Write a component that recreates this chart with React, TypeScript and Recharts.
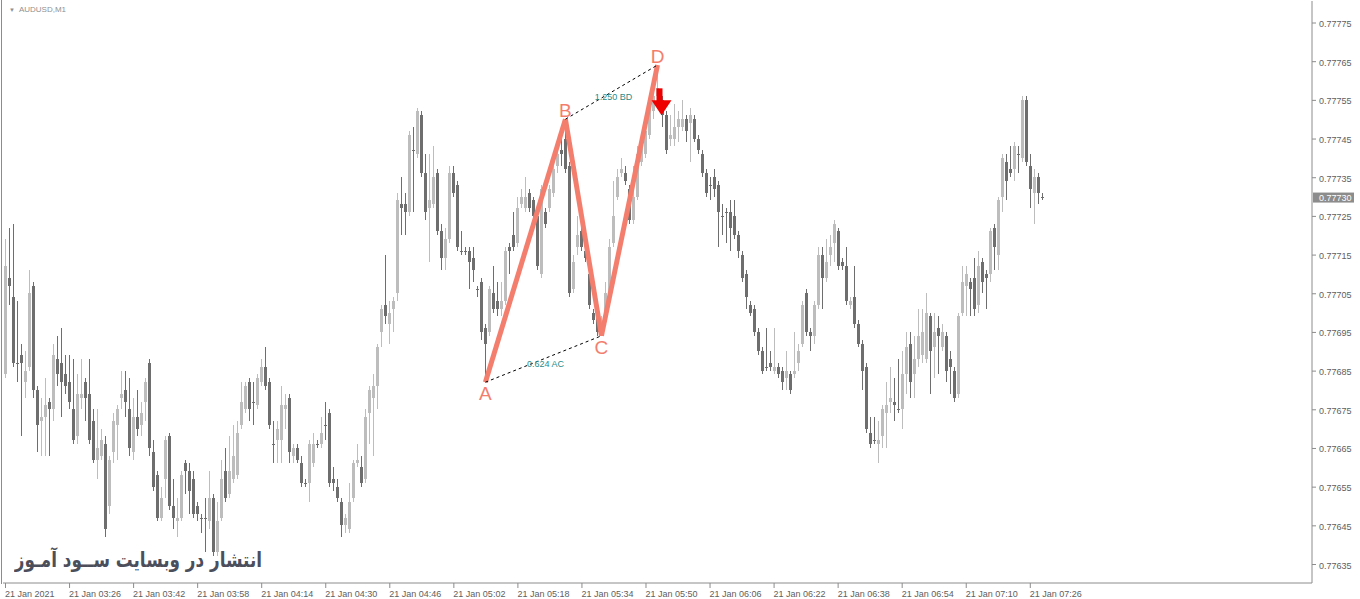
import { ComposedChart, Bar, XAxis, YAxis, ReferenceLine, ReferenceDot } from 'recharts'

// AUDUSD M1, 21 Jan 2021, first bar 03:10. Quotes in 1e-5 units (77684 = 0.77684)
const opens = [
  77684, 77709, 77704, 77687, 77689, 77682, 77686, 77707, 77680, 77672,
  77673, 77677, 77675, 77688, 77687, 77684, 77682, 77675, 77668, 77678,
  77682, 77679, 77672, 77662, 77663, 77666, 77650, 77664, 77671, 77678,
  77680, 77675, 77664, 77673, 77671, 77677, 77687, 77664, 77658, 77647,
  77657, 77668, 77650, 77646, 77647, 77661, 77659, 77657, 77650, 77647,
  77647, 77646, 77652, 77638, 77647, 77659, 77653, 77657, 77658, 77671,
  77675, 77682, 77677, 77676, 77682, 77686, 77682, 77666, 77667, 77667,
  77675, 77678, 77663, 77665, 77661, 77656, 77656, 77661, 77666, 77666,
  77671, 77674, 77657, 77655, 77651, 77645, 77644, 77652, 77661, 77660,
  77657, 77674, 77678, 77681, 77695, 77702, 77697, 77701, 77705, 77728,
  77728, 77726, 77742, 77741, 77751, 77736, 77727, 77728, 77736, 77721,
  77714, 77719, 77736, 77733, 77716, 77716, 77716, 77714, 77706, 77708,
  77696, 77695, 77705, 77703, 77701, 77703, 77717, 77720, 77718, 77728,
  77727, 77731, 77729, 77725, 77710, 77726, 77727, 77731, 77738, 77742,
  77745, 77738, 77706, 77717, 77721, 77716, 77710, 77700, 77700, 77695,
  77698, 77705, 77718, 77730, 77736, 77736, 77732, 77724, 77730, 77739,
  77741, 77746, 77752, 77756, 77755, 77751, 77745, 77745, 77748, 77748,
  77750, 77749, 77750, 77745, 77741, 77736, 77733, 77735, 77733, 77725,
  77726, 77726, 77725, 77720, 77715, 77710, 77702, 77701, 77695, 77690,
  77686, 77687, 77685, 77686, 77685, 77683, 77684, 77684, 77687, 77692,
  77705, 77695, 77694, 77702, 77715, 77709, 77715, 77718, 77721, 77713,
  77712, 77702, 77704, 77697, 77692, 77686, 77669, 77667, 77666, 77668,
  77674, 77677, 77677, 77675, 77675, 77684, 77692, 77684, 77688, 77689,
  77688, 77699, 77691, 77696, 77691, 77694, 77688, 77685, 77679, 77700,
  77707, 77708, 77709, 77702, 77713, 77710, 77710, 77722, 77715, 77730,
  77739, 77737, 77737, 77741, 77740, 77755, 77738, 77731, 77735, 77730,
]
const highs = [
  77719, 77722, 77723, 77703, 77692, 77690, 77711, 77708, 77681, 77678,
  77683, 77678, 77692, 77694, 77696, 77689, 77689, 77688, 77684, 77688,
  77683, 77688, 77675, 77675, 77670, 77668, 77663, 77674, 77676, 77685,
  77685, 77683, 77678, 77680, 77677, 77683, 77688, 77667, 77659, 77655,
  77668, 77669, 77657, 77652, 77659, 77662, 77661, 77659, 77651, 77648,
  77652, 77659, 77653, 77651, 77662, 77665, 77668, 77671, 77672, 77682,
  77682, 77683, 77682, 77684, 77688, 77691, 77683, 77672, 77672, 77681,
  77679, 77679, 77666, 77666, 77663, 77657, 77667, 77669, 77667, 77673,
  77677, 77675, 77660, 77657, 77652, 77648, 77656, 77662, 77666, 77663,
  77675, 77681, 77684, 77692, 77702, 77715, 77703, 77704, 77731, 77735,
  77731, 77747, 77748, 77753, 77752, 77741, 77741, 77743, 77737, 77723,
  77722, 77738, 77738, 77734, 77721, 77717, 77717, 77717, 77707, 77709,
  77697, 77707, 77712, 77708, 77708, 77717, 77718, 77726, 77730, 77732,
  77735, 77732, 77730, 77726, 77733, 77727, 77733, 77738, 77743, 77745,
  77750, 77739, 77715, 77725, 77726, 77719, 77711, 77701, 77701, 77699,
  77708, 77719, 77734, 77737, 77740, 77738, 77733, 77738, 77743, 77746,
  77750, 77756, 77759, 77764, 77756, 77752, 77751, 77754, 77752, 77755,
  77751, 77753, 77751, 77746, 77742, 77737, 77735, 77737, 77734, 77728,
  77727, 77729, 77729, 77721, 77716, 77711, 77703, 77702, 77696, 77691,
  77696, 77690, 77696, 77687, 77686, 77690, 77685, 77695, 77692, 77703,
  77706, 77696, 77703, 77717, 77717, 77719, 77720, 77724, 77722, 77714,
  77717, 77704, 77712, 77698, 77693, 77687, 77673, 77673, 77672, 77676,
  77682, 77686, 77683, 77688, 77690, 77695, 77695, 77694, 77701, 77701,
  77705, 77700, 77700, 77699, 77697, 77695, 77690, 77686, 77700, 77712,
  77712, 77709, 77714, 77716, 77714, 77711, 77722, 77723, 77730, 77741,
  77741, 77743, 77744, 77743, 77756, 77756, 77741, 77737, 77736, 77731,
]
const lows = [
  77683, 77702, 77686, 77682, 77668, 77678, 77685, 77678, 77664, 77663,
  77663, 77663, 77672, 77681, 77673, 77679, 77675, 77666, 77666, 77675,
  77672, 77666, 77661, 77657, 77662, 77642, 77648, 77661, 77662, 77675,
  77673, 77663, 77662, 77668, 77668, 77672, 77663, 77654, 77646, 77646,
  77652, 77649, 77644, 77642, 77646, 77653, 77648, 77647, 77646, 77643,
  77638, 77644, 77637, 77637, 77646, 77651, 77652, 77656, 77657, 77670,
  77674, 77672, 77671, 77675, 77681, 77680, 77670, 77661, 77661, 77661,
  77670, 77661, 77661, 77661, 77655, 77655, 77651, 77660, 77665, 77665,
  77667, 77655, 77654, 77651, 77642, 77643, 77643, 77651, 77660, 77655,
  77656, 77666, 77663, 77675, 77691, 77697, 77692, 77695, 77703, 77720,
  77720, 77725, 77726, 77740, 77735, 77724, 77713, 77727, 77720, 77711,
  77711, 77718, 77730, 77716, 77715, 77715, 77706, 77708, 77704, 77693,
  77682, 77694, 77700, 77699, 77699, 77702, 77710, 77716, 77717, 77727,
  77726, 77726, 77724, 77711, 77709, 77722, 77726, 77730, 77736, 77738,
  77736, 77704, 77705, 77715, 77716, 77713, 77701, 77697, 77694, 77694,
  77697, 77703, 77717, 77729, 77735, 77733, 77723, 77723, 77729, 77738,
  77740, 77745, 77750, 77755, 77748, 77741, 77743, 77743, 77744, 77747,
  77744, 77739, 77744, 77741, 77735, 77730, 77729, 77730, 77717, 77720,
  77718, 77716, 77719, 77714, 77708, 77701, 77699, 77694, 77689, 77684,
  77685, 77685, 77684, 77683, 77680, 77680, 77679, 77683, 77685, 77691,
  77694, 77690, 77692, 77701, 77701, 77708, 77712, 77713, 77711, 77711,
  77702, 77701, 77696, 77691, 77680, 77669, 77665, 77666, 77661, 77665,
  77665, 77674, 77672, 77674, 77670, 77679, 77678, 77678, 77686, 77687,
  77687, 77679, 77683, 77684, 77690, 77682, 77679, 77677, 77678, 77699,
  77699, 77699, 77699, 77700, 77705, 77701, 77708, 77711, 77711, 77726,
  77729, 77735, 77734, 77736, 77739, 77738, 77727, 77723, 77728, 77729,
]
const closes = [
  77712, 77707, 77687, 77687, 77687, 77685, 77705, 77680, 77671, 77673,
  77676, 77675, 77689, 77684, 77682, 77681, 77677, 77667, 77679, 77679,
  77678, 77667, 77662, 77665, 77667, 77644, 77662, 77672, 77675, 77679,
  77677, 77665, 77673, 77670, 77674, 77682, 77665, 77655, 77647, 77652,
  77667, 77650, 77647, 77647, 77658, 77659, 77654, 77648, 77648, 77647,
  77647, 77652, 77638, 77646, 77657, 77652, 77659, 77663, 77669, 77677,
  77681, 77675, 77677, 77683, 77686, 77681, 77671, 77666, 77670, 77676,
  77676, 77664, 77665, 77662, 77656, 77656, 77666, 77666, 77666, 77669,
  77671, 77656, 77656, 77652, 77645, 77647, 77651, 77661, 77662, 77656,
  77673, 77680, 77681, 77691, 77701, 77699, 77700, 77703, 77729, 77727,
  77726, 77746, 77742, 77752, 77736, 77726, 77729, 77735, 77721, 77714,
  77719, 77736, 77731, 77717, 77716, 77716, 77713, 77711, 77706, 77695,
  77692, 77706, 77701, 77701, 77703, 77716, 77716, 77717, 77727, 77730,
  77730, 77727, 77725, 77712, 77732, 77723, 77732, 77737, 77741, 77741,
  77737, 77705, 77713, 77720, 77717, 77714, 77702, 77698, 77695, 77697,
  77705, 77717, 77725, 77735, 77737, 77734, 77724, 77730, 77741, 77745,
  77747, 77755, 77756, 77758, 77751, 77742, 77746, 77748, 77750, 77750,
  77747, 77751, 77745, 77742, 77736, 77731, 77733, 77732, 77726, 77725,
  77726, 77722, 77720, 77716, 77709, 77704, 77700, 77695, 77690, 77685,
  77686, 77686, 77686, 77684, 77682, 77685, 77680, 77685, 77690, 77702,
  77695, 77694, 77702, 77715, 77709, 77713, 77717, 77723, 77712, 77712,
  77703, 77703, 77697, 77692, 77685, 77670, 77666, 77667, 77667, 77675,
  77676, 77678, 77676, 77675, 77684, 77691, 77682, 77688, 77694, 77695,
  77700, 77690, 77695, 77694, 77695, 77685, 77686, 77678, 77699, 77708,
  77710, 77706, 77701, 77712, 77708, 77709, 77721, 77717, 77729, 77740,
  77734, 77736, 77743, 77741, 77755, 77739, 77732, 77735, 77731, 77730,
]

const firstMinute = 3 * 60 + 10
const slotCount = 327 // bars plus the empty space to the right edge

const tickTimes = ['03:10', '03:26', '03:42', '03:58', '04:14', '04:30', '04:46', '05:02', '05:18',
  '05:34', '05:50', '06:06', '06:22', '06:38', '06:54', '07:10', '07:26']
const priceTicks = [0.77635, 0.77645, 0.77655, 0.77665, 0.77675, 0.77685, 0.77695, 0.77705,
  0.77715, 0.77725, 0.77735, 0.77745, 0.77755, 0.77765, 0.77775]

// ABCD pattern
const patternNames = ['A', 'B', 'C', 'D']
const patternTimes = ['05:10', '05:30', '05:39', '05:53']
const patternPrices = [0.77682, 0.7775, 0.77694, 0.77764]
const ratioLabels = ['0.624 AC', '1.250 BD']
const sellArrowTime = '05:54'
const sellArrowPrice = 0.77751

const yMin = 0.7763009
const yMax = 0.7778056
const BULL = '#bdbdbd'
const BEAR = '#6e6e6e'
const SALMON = '#f47e6d'
const AXIS = '#8c8c8c'
const FONT = '"Liberation Sans", Arial, sans-serif'

const hhmm = (m: number) => `${String(Math.floor(m / 60)).padStart(2, '0')}:${String(m % 60).padStart(2, '0')}`

const rows = Array.from({ length: slotCount }, (_, i) => {
  const t = hhmm(firstMinute + i)
  if (i >= opens.length) return { t }
  return { t, o: opens[i] / 1e5, h: highs[i] / 1e5, l: lows[i] / 1e5, c: closes[i] / 1e5 }
})
const lastPrice = closes[closes.length - 1] / 1e5

function Candle(props: any) {
  const { x, y, width, height, payload } = props
  if (!payload || payload.o == null) return null
  const { o, h, l, c } = payload
  const top = Math.min(y, y + height)
  const hgt = Math.abs(height)
  const k = h > l ? hgt / (h - l) : 0
  const yo = top + (h - o) * k
  const yc = top + (h - c) * k
  const cx = Math.round(x + width / 2)
  const col = c > o ? BULL : BEAR
  return (
    <g shapeRendering="crispEdges">
      <line x1={cx + 0.5} x2={cx + 0.5} y1={top} y2={top + hgt} stroke={col} />
      {c === o
        ? <line x1={cx - 1} x2={cx + 2} y1={Math.round(yo) + 0.5} y2={Math.round(yo) + 0.5} stroke={BEAR} />
        : <rect x={cx - 1} y={Math.min(yo, yc)} width={3} height={Math.max(1, Math.abs(yc - yo))} fill={col} />}
    </g>
  )
}

function TimeTick({ x, y, payload }: any) {
  const label = payload.value === tickTimes[0] ? '21 Jan 2021' : `21 Jan ${payload.value}`
  return (
    <g>
      <line x1={x + 0.5} x2={x + 0.5} y1={y} y2={y + 5} stroke={AXIS} />
      <text x={x} y={y + 14} fontSize={9} fontFamily={FONT} fill="#606060">{label}</text>
    </g>
  )
}

function PriceTick({ x, y, payload }: any) {
  const v = payload.value
  if (Math.abs(v - lastPrice) < 1e-9) {
    return (
      <g>
        <rect x={x + 1} y={y - 4} width={41} height={10} fill="#8c8c8c" />
        <text x={x + 7} y={y + 4.5} fontSize={9} fontFamily={FONT} fill="#ffffff">{v.toFixed(5)}</text>
      </g>
    )
  }
  return (
    <g>
      <line x1={x} x2={x + 4} y1={y + 0.5} y2={y + 0.5} stroke={AXIS} />
      <text x={x + 7} y={y + 4.5} fontSize={9} fontFamily={FONT} fill="#606060">{v.toFixed(5)}</text>
    </g>
  )
}

const ratioLabel = (text: string) => (p: any) => {
  const vb = p.viewBox || {}
  const mx = (vb.x ?? 0) + (vb.width ?? 0) / 2
  const my = (vb.y ?? 0) + (vb.height ?? 0) / 2
  return <text x={mx + 2} y={my + 8} textAnchor="middle" fontSize={9} fontFamily={FONT} fill="#1f8c8c">{text}</text>
}

const letterShape = (name: string, below: boolean) => (p: any) => (
  <text x={p.cx} y={p.cy + (below ? 18 : -2)} textAnchor="middle" fontSize={19} fontFamily={FONT} fill={SALMON}>{name}</text>
)

function SellArrow(p: any) {
  const { cx, cy } = p
  return (
    <g fill="#ee0000">
      <rect x={cx - 5} y={cy - 27} width={6} height={13} />
      <polygon points={`${cx - 10},${cy - 15} ${cx + 10},${cy - 15} ${cx},${cy}`} />
    </g>
  )
}

export default function App() {
  return (
    <div style={{ position: 'absolute', left: 0, top: 0, width: 1360, height: 599, background: '#fff' }}>
      <div style={{ position: 'absolute', left: 1, top: 0, width: 1, height: 584, background: AXIS }} />
      <ComposedChart width={1360} height={599} data={rows} margin={{ top: 1, right: 0, bottom: 0, left: 3 }}
        barCategoryGap={0} barGap={0}>
        <XAxis dataKey="t" height={16} ticks={tickTimes} interval={0} tick={<TimeTick />}
          tickLine={false} tickSize={0} tickMargin={0} axisLine={{ stroke: AXIS }} />
        <XAxis xAxisId="top" dataKey="t" orientation="top" height={0} tick={false} axisLine={{ stroke: AXIS }} />
        <YAxis orientation="right" width={48} domain={[yMin, yMax]} allowDataOverflow type="number"
          ticks={[...priceTicks, lastPrice]} interval={0} tick={<PriceTick />}
          tickLine={false} tickSize={0} tickMargin={0} axisLine={{ stroke: AXIS }} />
        <YAxis yAxisId="left" orientation="left" width={0} domain={[yMin, yMax]} type="number" tick={false}
          axisLine={{ stroke: AXIS }} />
        <Bar dataKey={(d: any) => (d.o == null ? null : [d.l, d.h])} shape={<Candle />} isAnimationActive={false} />

        {patternNames.slice(0, 3).map((_, i) => (
          <ReferenceLine key={'zz' + i} stroke={SALMON} strokeWidth={5} ifOverflow="visible"
            segment={[{ x: patternTimes[i], y: patternPrices[i] }, { x: patternTimes[i + 1], y: patternPrices[i + 1] }]} />
        ))}
        {[0, 1].map(i => (
          <ReferenceLine key={'rt' + i} stroke="#000" strokeWidth={1} strokeDasharray="3 3" ifOverflow="visible"
            segment={[{ x: patternTimes[i], y: patternPrices[i] }, { x: patternTimes[i + 2], y: patternPrices[i + 2] }]}
            label={{ content: ratioLabel(ratioLabels[i]) }} />
        ))}
        {patternNames.map((n, i) => (
          <ReferenceDot key={n} x={patternTimes[i]} y={patternPrices[i]} r={0} ifOverflow="visible"
            shape={letterShape(n, n === 'A' || n === 'C')} />
        ))}
        <ReferenceDot x={sellArrowTime} y={sellArrowPrice} r={0} ifOverflow="visible" shape={SellArrow} />
      </ComposedChart>
      <div style={{ position: 'absolute', left: 9, top: 5, fontFamily: FONT, fontSize: 8, color: '#909090', whiteSpace: 'nowrap' }}>
        <span style={{ fontSize: 6, marginRight: 4 }}>▼</span>AUDUSD,M1
      </div>
      <div dir="rtl" style={{ position: 'absolute', right: 1098, top: 548, fontFamily: '"DejaVu Sans", sans-serif',
        fontWeight: 'bold', fontSize: 21, color: '#4b4e5b', whiteSpace: 'nowrap',
        transform: 'scaleX(0.8)', transformOrigin: 'right center' }}>
        انتشار در وبسایت ســود آمـوز
      </div>
    </div>
  )
}
